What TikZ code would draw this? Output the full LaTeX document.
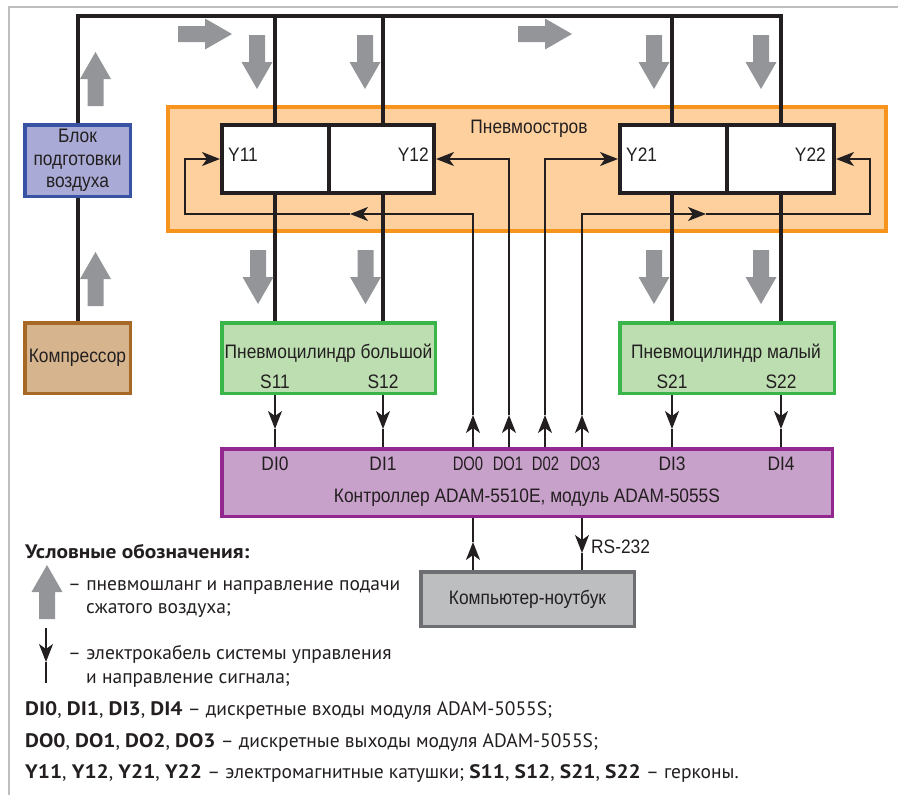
\documentclass[tikz,border=0pt]{standalone}
\usepackage{fontspec}
\setmainfont{Liberation Sans}
\newfontfamily\diagfont[FakeStretch=0.89]{Liberation Sans}
\newfontfamily\narrowfont[FakeStretch=0.76]{Liberation Sans}
\newfontfamily\legfont[BoldFeatures={FakeStretch=1.1}]{PT Sans}
\usetikzlibrary{arrows.meta}
\definecolor{arrgrey}{RGB}{147,149,152}
\definecolor{isfill}{RGB}{253,208,158}
\definecolor{isdraw}{RGB}{247,148,29}
\definecolor{blfill}{RGB}{169,171,214}
\definecolor{bldraw}{RGB}{57,83,164}
\definecolor{kofill}{RGB}{214,181,142}
\definecolor{kodraw}{RGB}{166,104,36}
\definecolor{cyfill}{RGB}{188,222,176}
\definecolor{cydraw}{RGB}{57,181,74}
\definecolor{ctfill}{RGB}{200,161,202}
\definecolor{ctdraw}{RGB}{146,39,143}
\definecolor{pcfill}{RGB}{188,190,192}
\definecolor{pcdraw}{RGB}{109,110,113}
\definecolor{txtc}{RGB}{35,31,32}
\definecolor{framec}{RGB}{190,190,190}
\tikzset{garrow/.pic={\fill[arrgrey] (0,-8) -- (27,-8) -- (27,-15.5) -- (54,0) -- (27,15.5) -- (27,8) -- (0,8) -- cycle;}}
\begin{document}
\begin{tikzpicture}[x=1pt,y=-1pt,
  lbl/.style={text=txtc, font=\diagfont\fontsize{19.5}{22.5}\selectfont, inner sep=0pt},
  dolbl/.style={text=txtc, font=\narrowfont\fontsize{19.5}{22.5}\selectfont, inner sep=0pt, anchor=base},
  leg/.style={text=txtc, font=\legfont\fontsize{19.5}{23}\selectfont, inner sep=0pt, anchor=base west},
  box/.style={draw, line width=3.5pt, inner sep=0pt, text=txtc, font=\diagfont\fontsize{19.5}{22.5}\selectfont, align=center},
  air/.style={line width=4pt, draw=txtc},
  sig/.style={line width=1.5pt, draw=txtc},
  tip/.style={-{Stealth[length=18pt,width=14pt,inset=5pt]}}]
\useasboundingbox (0,0) rectangle (898,795);
% frame
\draw[framec, line width=1.5pt] (9,795) -- (9,7) -- (898,7);
% boxes
\node[box, draw=isdraw, fill=isfill, line width=4pt, minimum width=718pt, minimum height=124pt] (island) at (527,169) {};
\node[lbl, anchor=base] (islandlbl) at (529,133) {Пневмоостров};
\node[box, draw=bldraw, fill=blfill, minimum width=105.5pt, minimum height=71.5pt] (blok) at (77.5,160.5) {Блок\\подготовки\\воздуха};
\node[box, draw=kodraw, fill=kofill, minimum width=105.5pt, minimum height=70.5pt] (komp) at (77.5,358) {Компрессор};
\node[box, draw=txtc, fill=white, line width=4pt, minimum width=107pt, minimum height=68pt] (y11) at (275.5,159) {};
\node[box, draw=txtc, fill=white, line width=4pt, minimum width=105pt, minimum height=68pt] (y12) at (381.5,159) {};
\node[box, draw=txtc, fill=white, line width=4pt, minimum width=107pt, minimum height=68pt] (y21) at (673.5,159) {};
\node[box, draw=txtc, fill=white, line width=4pt, minimum width=107pt, minimum height=68pt] (y22) at (780.5,159) {};
\node[lbl, anchor=base west] (y11lbl) at (228,161) {Y11};
\node[lbl, anchor=base east] (y12lbl) at (429,161) {Y12};
\node[lbl, anchor=base west] (y21lbl) at (626,161) {Y21};
\node[lbl, anchor=base east] (y22lbl) at (826,161) {Y22};
\node[box, draw=cydraw, fill=cyfill, minimum width=213.5pt, minimum height=70.5pt] (cyl1) at (328.5,358) {};
\node[box, draw=cydraw, fill=cyfill, minimum width=214.5pt, minimum height=70.5pt] (cyl2) at (727,358) {};
\node[lbl, anchor=base] (cyl1lbl) at (328.5,358) {Пневмоцилиндр большой};
\node[lbl, anchor=base] (cyl2lbl) at (726,358) {Пневмоцилиндр малый};
\node[lbl, anchor=base] (s11) at (275,388) {S11};
\node[lbl, anchor=base] (s12) at (383,388) {S12};
\node[lbl, anchor=base] (s21) at (672,388) {S21};
\node[lbl, anchor=base] (s22) at (781,388) {S22};
\node[box, draw=ctdraw, fill=ctfill, minimum width=610.5pt, minimum height=67.5pt] (ctrl) at (527,482.5) {};
\node[lbl, anchor=base] (di0) at (275,470) {DI0};
\node[lbl, anchor=base] (di1) at (383,470) {DI1};
\node[dolbl] (do0) at (468,470) {DO0};
\node[dolbl] (do1) at (508,470) {DO1};
\node[dolbl] (do2) at (545.5,470) {D02};
\node[dolbl] (do3) at (585,470) {DO3};
\node[lbl, anchor=base] (di3) at (672,470) {DI3};
\node[lbl, anchor=base] (di4) at (781,470) {DI4};
\node[lbl, anchor=base] (ctrllbl) at (527,502) {Контроллер ADAM-5510E, модуль ADAM-5055S};
\node[box, draw=pcdraw, fill=pcfill, minimum width=213.5pt, minimum height=54.5pt] (pc) at (527.5,599) {Компьютер-ноутбук};
\node[lbl, anchor=base west] (rs) at (591,553) {RS-232};
% air lines
\coordinate (tL) at (77.5,16);
\coordinate (tA) at (275,16);
\coordinate (tB) at (383,16);
\coordinate (tC) at (672,16);
\coordinate (tD) at (781,16);
\draw[air] (blok.north) -- (tL) -- (tD) -- (tD |- y22.north);
\draw[air] (tA) -- (tA |- y11.north);
\draw[air] (tB) -- (tB |- y12.north);
\draw[air] (tC) -- (tC |- y21.north);
\draw[air] (tA |- y11.south) -- (tA |- cyl1.north);
\draw[air] (tB |- y12.south) -- (tB |- cyl1.north);
\draw[air] (tC |- y21.south) -- (tC |- cyl2.north);
\draw[air] (tD |- y22.south) -- (tD |- cyl2.north);
\draw[air] (blok.south) -- (komp.north);
% grey air arrows
\pic at (178,34) {garrow};
\pic at (518,34) {garrow};
\pic[rotate=-90] at (257,35) {garrow};
\pic[rotate=-90] at (365,35) {garrow};
\pic[rotate=-90] at (654,35) {garrow};
\pic[rotate=-90] at (761,35) {garrow};
\pic[rotate=-90] at (258,250) {garrow};
\pic[rotate=-90] at (365.5,250) {garrow};
\pic[rotate=-90] at (654,250) {garrow};
\pic[rotate=-90] at (761,250) {garrow};
\pic[rotate=90] at (95.5,106) {garrow};
\pic[rotate=90] at (95.5,306) {garrow};
% signal lines
\coordinate (a0) at (473,415);
\coordinate (a0t) at (473,214);
\coordinate (m0) at (350,214);
\coordinate (l0) at (185,214);
\coordinate (a1) at (509,415);
\coordinate (a2) at (545,415);
\coordinate (a3) at (582,415);
\coordinate (a3t) at (582,214);
\coordinate (m3) at (706,214);
\coordinate (r3) at (870,214);
\draw[sig,tip] (ctrl.north -| a0) -- (a0);
\draw[sig,tip] (a0) -- (a0t) -- (m0);
\draw[sig,tip] (m0) -- (l0) |- (y11.west);
\draw[sig,tip] (ctrl.north -| a1) -- (a1);
\draw[sig,tip] (a1) |- (y12.east);
\draw[sig,tip] (ctrl.north -| a2) -- (a2);
\draw[sig,tip] (a2) |- (y21.west);
\draw[sig,tip] (ctrl.north -| a3) -- (a3);
\draw[sig,tip] (a3) -- (a3t) -- (m3);
\draw[sig,tip] (m3) -- (r3) |- (y22.east);
% sensor lines
\coordinate (sA) at (275,429);
\coordinate (sB) at (383,429);
\coordinate (sC) at (672,429);
\coordinate (sD) at (781,429);
\draw[sig,tip] (cyl1.south -| sA) -- (sA);
\draw[sig] (sA) -- (ctrl.north -| sA);
\draw[sig,tip] (cyl1.south -| sB) -- (sB);
\draw[sig] (sB) -- (ctrl.north -| sB);
\draw[sig,tip] (cyl2.south -| sC) -- (sC);
\draw[sig] (sC) -- (ctrl.north -| sC);
\draw[sig,tip] (cyl2.south -| sD) -- (sD);
\draw[sig] (sD) -- (ctrl.north -| sD);
% pc lines
\coordinate (pu) at (473,542);
\coordinate (pd) at (582,553);
\draw[sig,tip] (pc.north -| pu) -- (pu);
\draw[sig] (pu) -- (ctrl.south -| pu);
\draw[sig,tip] (ctrl.south -| pd) -- (pd);
\draw[sig] (pd) -- (pc.north -| pd);
% legend
\node[leg] (legt) at (25,558) {\bfseries Условные обозначения:};
\pic[rotate=90] at (47,619) {garrow};
\node[leg] (leg1) at (68,590) {– пневмошланг и направление подачи};
\node[leg] (leg2) at (86,613) {сжатого воздуха;};
\coordinate (lgt) at (46,628);
\coordinate (lgm) at (46,662);
\coordinate (lgb) at (46,683);
\draw[sig,tip] (lgt) -- (lgm);
\draw[sig] (lgm) -- (lgb);
\node[leg] (leg3) at (68,659) {– электрокабель системы управления};
\node[leg] (leg4) at (86,683) {и направление сигнала;};
\node[leg] (leg5) at (25,715) {\textbf{DI0}, \textbf{DI1}, \textbf{DI3}, \textbf{DI4} – дискретные входы модуля ADAM-5055S;};
\node[leg] (leg6) at (25,747) {\textbf{DO0}, \textbf{DO1}, \textbf{DO2}, \textbf{DO3} – дискретные выходы модуля ADAM-5055S;};
\node[leg] (leg7) at (25,778) {\textbf{Y11}, \textbf{Y12}, \textbf{Y21}, \textbf{Y22} – электромагнитные катушки; \textbf{S11}, \textbf{S12}, \textbf{S21}, \textbf{S22} – герконы.};
\end{tikzpicture}
\end{document}
